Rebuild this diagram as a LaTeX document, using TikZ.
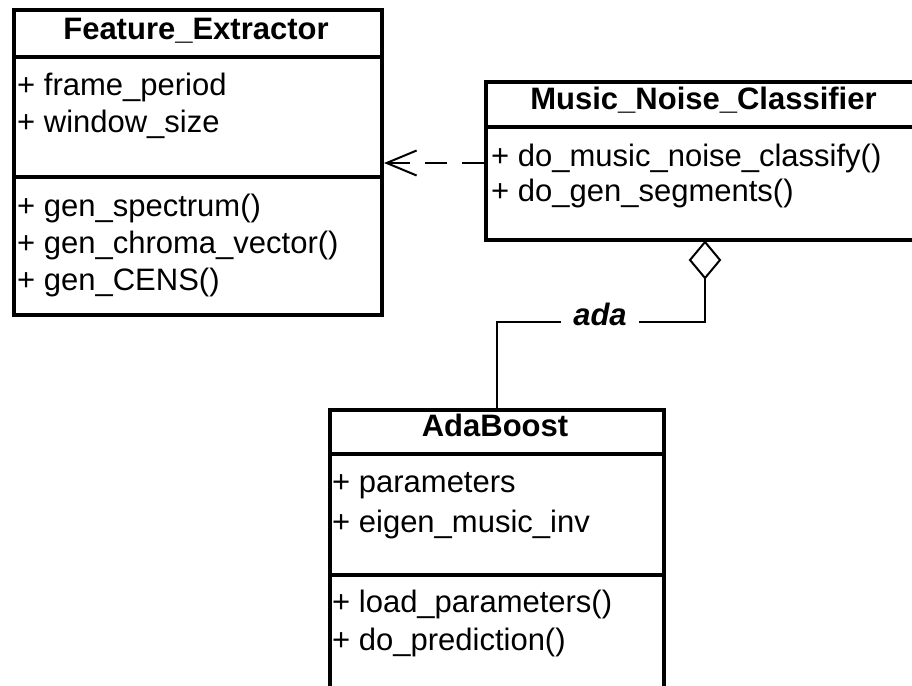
\documentclass[tikz,border=0pt]{standalone}
\usepackage{fontspec}
\setmainfont{Liberation Sans}
\usetikzlibrary{arrows.meta,shapes.geometric}
\newcommand\memberfont{\fontsize{31}{36}\selectfont}
\newcommand\titlefont{\fontsize{31}{36}\selectfont\bfseries}
\tikzset{
  classbox/.style={draw, line width=4pt, inner sep=0pt, anchor=north west},
  sepline/.style={line width=4pt},
  member/.style={anchor=base west, inner sep=0pt, font=\memberfont},
  classtitle/.style={anchor=base, inner sep=0pt, font=\titlefont},
  conn/.style={line width=2pt},
  depend/.style={conn, dash pattern=on 22pt off 15pt, -{Straight Barb[length=30pt,width=25pt,line width=2pt]}},
  aggdiamond/.style={draw, diamond, line width=2pt, minimum width=30pt, minimum height=36pt, inner sep=0pt, outer sep=0pt, anchor=north},
  rolelabel/.style={anchor=base, inner xsep=12pt, inner ysep=0pt, font=\titlefont\itshape},
}
\begin{document}
\begin{tikzpicture}[x=1pt,y=-1pt]
\clip (0,0) rectangle (912,685);
\fill[white] (0,0) rectangle (912,685);

% Feature_Extractor
\node[classbox, minimum width=368pt, minimum height=305pt] (fe) at (12,8) {};
\draw[sepline] (12,57) -- (380,57);
\draw[sepline] (12,177) -- (380,177);
\node[classtitle] (fet) at (196,40) {Feature\_Extractor};
\node[member] (fe1) at (17,95) {+ frame\_period};
\node[member] (fe2) at (17,132) {+ window\_size};
\node[member] (fe3) at (17,216) {+ gen\_spectrum()};
\node[member] (fe4) at (17,253) {+ gen\_chroma\_vector()};
\node[member] (fe5) at (17,290) {+ gen\_CENS()};

% Music_Noise_Classifier
\node[classbox, minimum width=439pt, minimum height=158pt] (mnc) at (484,80) {};
\draw[sepline] (484,127) -- (923,127);
\node[classtitle] (mnct) at (703.5,109) {Music\_Noise\_Classifier};
\node[member] (mnc1) at (491,166) {+ do\_music\_noise\_classify()};
\node[member] (mnc2) at (491,201) {+ do\_gen\_segments()};

% AdaBoost
\node[classbox, minimum width=334pt, minimum height=320pt] (ada) at (328,408) {};
\draw[sepline] (328,454) -- (662,454);
\draw[sepline] (328,575) -- (662,575);
\node[classtitle] (adat) at (495,436) {AdaBoost};
\node[member] (ada1) at (332,492) {+ parameters};
\node[member] (ada2) at (332,532) {+ eigen\_music\_inv};
\node[member] (ada3) at (332,612) {+ load\_parameters()};
\node[member] (ada4) at (332,650) {+ do\_prediction()};

% dependency
\draw[depend] ([yshift=-2pt]mnc.west) -- ([yshift=-2pt]mnc.west -| fe.east);

% aggregation
\node[aggdiamond] (agg) at ([xshift=-0.5pt]mnc.south) {};
\node[rolelabel] (lbl) at (600,325) {ada};
\draw[conn] (agg.south) |- ([yshift=3pt]lbl.base east);
\draw[conn] ([yshift=3pt]lbl.base west) -| (ada.north);
\end{tikzpicture}
\end{document}
